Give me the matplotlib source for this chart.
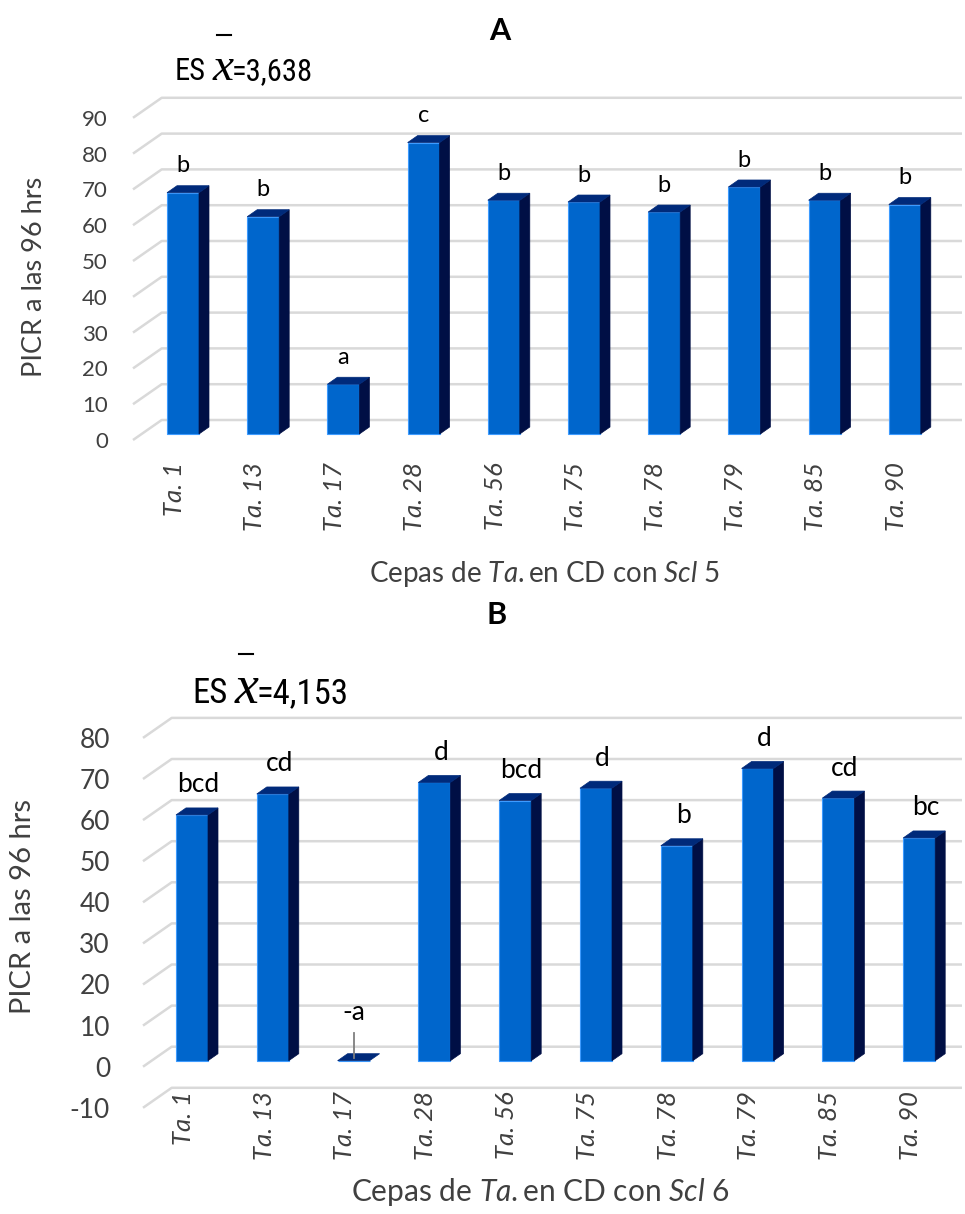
import numpy as np
import matplotlib.pyplot as plt
from matplotlib.patches import Polygon
from matplotlib.lines import Line2D
from matplotlib import font_manager
from matplotlib.font_manager import FontProperties

# data
strains = ['Ta. 1', 'Ta. 13', 'Ta. 17', 'Ta. 28', 'Ta. 56',
           'Ta. 75', 'Ta. 78', 'Ta. 79', 'Ta. 85', 'Ta. 90']
picr_a = [67.4, 60.7, 13.9, 81.4, 65.3, 64.8, 62.0, 69.0, 65.3, 64.1]
letters_a = ['b', 'b', 'a', 'c', 'b', 'b', 'b', 'b', 'b', 'b']
picr_b = [59.8, 64.9, 0.0, 67.7, 63.3, 66.3, 52.3, 71.1, 63.9, 54.2]
letters_b = ['bcd', 'cd', '-a', 'd', 'bcd', 'd', 'b', 'd', 'cd', 'bc']
ticks_a = list(range(0, 100, 10))
ticks_b = list(range(-10, 90, 10))

plt.rcParams['font.family'] = ['Lato', 'DejaVu Sans']
plt.rcParams['mathtext.fontset'] = 'custom'
plt.rcParams['mathtext.rm'] = 'Lato'
plt.rcParams['mathtext.it'] = 'Lato:italic'

# a narrow sans for the "ES x" note, if one is installed
narrow = None
for f in font_manager.fontManager.ttflist:
    narrow_name = ('Narrow' in f.name or 'Condensed' in f.name
                   or f.stretch in ('condensed', 'semi-condensed'))
    if narrow_name and f.style == 'normal' and f.weight in (400, 'normal', 'regular'):
        if narrow is None or 'Liberation' in f.name or 'Roboto' in f.name:
            narrow = f
if narrow is not None:
    es_prop = FontProperties(fname=narrow.fname)
    es_scale = 1.0
else:
    es_prop = FontProperties(family='Liberation Sans')
    es_scale = 0.85

W, H = 965, 1214
fig = plt.figure(figsize=(W / 100, H / 100), dpi=100)

FRONT = '#0066CC'
SIDE = '#000F45'
TOP = '#002A7A'
GRID = '#D9D9D9'
TXT = '#404040'


def draw_panel(values, letters, ticks, g):
    left, right, top, bottom = g['box']
    ax = fig.add_axes([left / W, 1 - bottom / H, (right - left) / W, (bottom - top) / H])
    cx0, cs, vy0, vs = g['cx0'], g['cstep'], g['vy0'], g['vstep']
    ax.set_xlim((left - cx0) / cs, (right - cx0) / cs)
    ax.set_ylim((vy0 - bottom) / vs, (vy0 - top) / vs)
    ax.patch.set_visible(False)
    for s in ax.spines.values():
        s.set_visible(False)

    # oblique offsets (px -> data)
    fx, fy = -8.7 / cs, -6.0 / vs       # floor front edge
    wx, wy = 20.0 / cs, 14.0 / vs       # back wall
    bx, by = 10.0 / cs, 7.0 / vs        # bar depth
    xl = (g['gl_left'] - cx0) / cs
    xr = (right - cx0) / cs

    for t in ticks:
        ax.plot([xl, xl + (wx - fx), xr], [t + fy, t + wy, t + wy],
                color=GRID, lw=1.8, zorder=1, solid_capstyle='butt')

    x = np.arange(len(values))
    hw = 16.0 / cs
    ax.bar(x, values, width=2 * hw, color=FRONT, edgecolor='#3D9BFF',
           linewidth=0.8, zorder=3)
    for xi, v in zip(x, values):
        x0, x1 = xi - hw, xi + hw
        if v > 0.5:
            ax.add_patch(Polygon([(x1, 0), (x1 + bx, by), (x1 + bx, v + by), (x1, v)],
                                 closed=True, facecolor=SIDE, edgecolor=SIDE, lw=0.5, zorder=3))
        ax.add_patch(Polygon([(x0, v), (x1, v), (x1 + bx, v + by), (x0 + bx, v + by)],
                             closed=True, facecolor=TOP, edgecolor=TOP, lw=0.5, zorder=4))

    for xi, v, lab in zip(x, values, letters):
        if v > 0.5:
            ax.text(xi + g['lab_dx'], v + g['lab_dy'], lab, ha='center', va='center',
                    fontsize=g['lab_fs'], color='black', zorder=5)
        else:
            ax.text(xi, v + g['lab_dy'] + 4.5, lab, ha='center', va='center',
                    fontsize=g['lab_fs'], color='black', zorder=5)
            ax.plot([xi, xi], [v + 0.6, v + 6.7], color='#7F7F7F', lw=1.3, zorder=5)

    ax.set_yticks([t + fy for t in ticks], labels=[str(t) for t in ticks])
    ax.set_xticks(x + fx, labels=strains)
    ax.tick_params(axis='y', length=0, pad=(left - g['ytl_right']) * 0.72,
                   labelsize=g['ytick_fs'], labelcolor=TXT)
    ax.tick_params(axis='x', length=0, pad=(g['xtl_top'] - bottom) * 0.72,
                   labelsize=g['xtick_fs'], labelcolor=TXT, labelrotation=90)
    for lbl in ax.get_xticklabels():
        lbl.set_fontstyle('italic')
    return ax


geo_a = dict(box=(118, 962, 95, 446), cx0=183, cstep=80.2, vy0=434, vstep=3.58,
             gl_left=133, ytl_right=108, xtl_top=462, lab_dx=0.0, lab_dy=7.5,
             lab_fs=17, ytick_fs=16, xtick_fs=18.5)
geo_b = dict(box=(120, 962, 700, 1112), cx0=192, cstep=80.8, vy0=1060.7, vstep=4.11,
             gl_left=143, ytl_right=110, xtl_top=1091, lab_dx=0.08, lab_dy=7.3,
             lab_fs=19, ytick_fs=19, xtick_fs=18.5)

draw_panel(picr_a, letters_a, ticks_a, geo_a)
draw_panel(picr_b, letters_b, ticks_b, geo_b)

# axis titles
fig.text(35 / W, 1 - 277 / H, 'PICR a las 96 hrs', rotation=90, ha='center', va='center',
         fontsize=19.5, color=TXT)
fig.text(23 / W, 1 - 906 / H, 'PICR a las 96 hrs', rotation=90, ha='center', va='center',
         fontsize=21, color=TXT)
fig.text(545 / W, 1 - 574 / H, r'Cepas de $\it{Ta.}$en CD con $\it{Scl}$ 5', ha='center',
         va='center', fontsize=20, color=TXT)
fig.text(540 / W, 1 - 1192 / H, r'Cepas de $\it{Ta.}$en CD con $\it{Scl}$ 6', ha='center',
         va='center', fontsize=21.5, color=TXT)

# panel letters
fig.text(500 / W, 1 - 31 / H, 'A', ha='center', va='center', fontsize=22, fontweight='bold')
fig.text(497 / W, 1 - 615 / H, 'B', ha='center', va='center', fontsize=22, fontweight='bold')


def es_label(x_px, base_px, value, fs, bar_px):
    p = es_prop.copy()
    p.set_size(fs * es_scale)
    t1 = fig.text(x_px / W, 1 - base_px / H, 'ES', fontproperties=p,
                  ha='left', va='baseline')
    t2 = fig.text(0, 0, 'x', fontfamily='Liberation Serif', fontstyle='italic',
                  fontsize=fs * 1.55, ha='left', va='baseline')
    fig.canvas.draw()
    bb = t1.get_window_extent()
    t2.set_position(((bb.x1 + 7) / W, 1 - base_px / H))
    fig.canvas.draw()
    bb2 = t2.get_window_extent()
    fig.text((bb2.x1 - 2) / W, 1 - base_px / H, '=' + value, fontproperties=p,
             ha='left', va='baseline')
    cx = (bb2.x0 + bb2.x1) / 2
    fig.add_artist(Line2D([(cx - 7) / W, (cx + 7) / W], [1 - bar_px / H, 1 - bar_px / H],
                          color='black', lw=1.5))


es_label(175, 80, '3,638', 22, 35)
es_label(192, 703, '4,153', 25, 654)

fig.savefig('out.png', dpi=100)
